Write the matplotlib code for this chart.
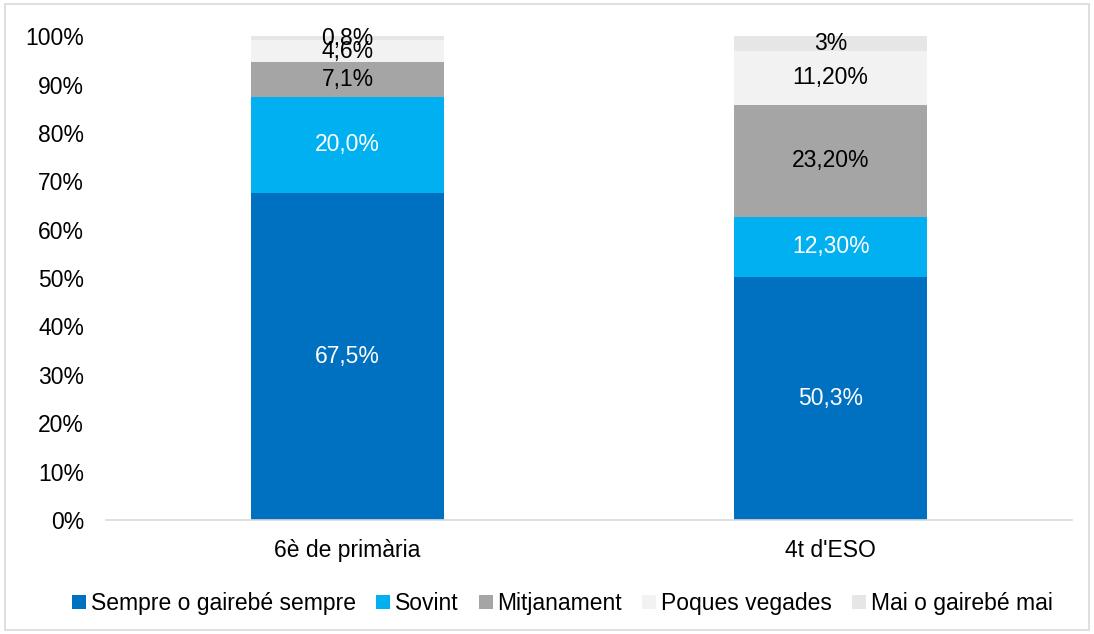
import numpy as np
import matplotlib.pyplot as plt
from matplotlib.patches import Rectangle

plt.rcParams['font.family'] = ['Liberation Sans', 'DejaVu Sans']

# Data
categories = ['6è de primària', "4t d'ESO"]
series = ['Sempre o gairebé sempre', 'Sovint', 'Mitjanament', 'Poques vegades', 'Mai o gairebé mai']
values = [
    [67.5, 50.3],
    [20.0, 12.3],
    [7.1, 23.2],
    [4.6, 11.2],
    [0.8, 3.0],
]
labels = [
    ['67,5%', '50,3%'],
    ['20,0%', '12,30%'],
    ['7,1%', '23,20%'],
    ['4,6%', '11,20%'],
    ['0,8%', '3%'],
]
colors = ['#0070C0', '#00B0F0', '#A5A5A5', '#F2F2F2', '#E6E6E6']
text_colors = ['white', 'white', 'black', 'black', 'black']
fs = 16.5

fig = plt.figure(figsize=(10.94, 6.34), dpi=100)
ax = fig.add_axes([0.097, 0.18, 0.883, 0.763])

x = np.arange(len(categories))
bottom = np.zeros(len(categories))
for i in range(len(series)):
    bars = ax.bar(x, values[i], 0.4, bottom=bottom, color=colors[i], label=series[i])
    for j, b in enumerate(bars):
        ax.text(b.get_x() + b.get_width() / 2, bottom[j] + values[i][j] / 2, labels[i][j],
                ha='center', va='center', fontsize=fs, color=text_colors[i])
    bottom += np.array(values[i])

ax.set_xlim(-0.5, 1.5)
ax.set_ylim(0, 100)
ax.set_yticks(range(0, 101, 10))
ax.set_yticklabels([f'{v}%' for v in range(0, 101, 10)])
ax.set_xticks(x)
ax.set_xticklabels(categories)
ax.tick_params(axis='both', length=0, labelsize=fs)
ax.tick_params(axis='x', pad=14)
ax.tick_params(axis='y', pad=16)
for s in ['top', 'right', 'left']:
    ax.spines[s].set_visible(False)
ax.spines['bottom'].set_color('#D9D9D9')
ax.spines['bottom'].set_linewidth(1.2)

fig.legend(loc='center', bbox_to_anchor=(0.514, 0.048), ncol=5, frameon=False,
           fontsize=fs, handlelength=0.6, handleheight=0.6, handletextpad=0.2,
           columnspacing=0.9)

fig.patches.append(Rectangle((0.005, 0.006), 0.99, 0.988, transform=fig.transFigure,
                             fill=False, edgecolor='#D9D9D9', linewidth=1.2))

fig.savefig('out.png', dpi=100)
